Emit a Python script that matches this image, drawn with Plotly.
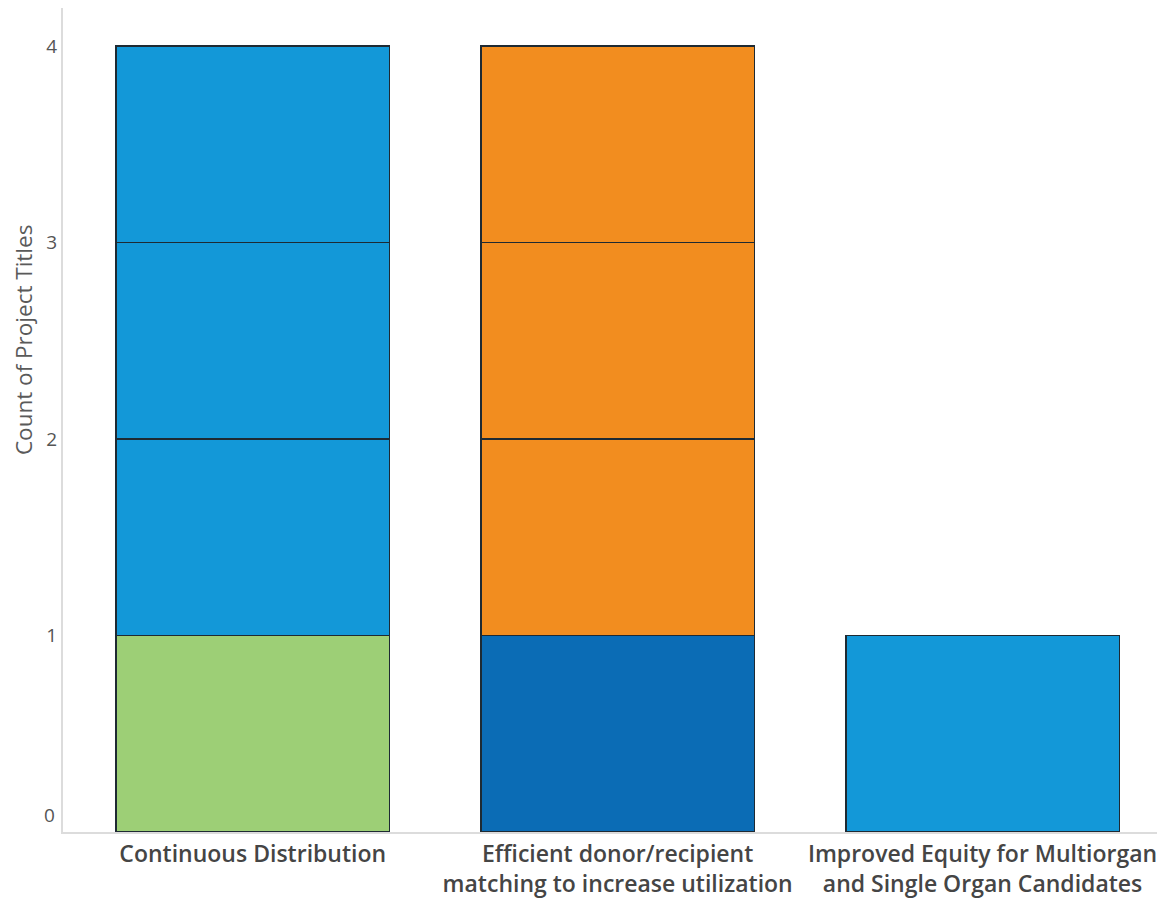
import plotly.graph_objects as go

categories = [
    "Continuous Distribution",
    "Efficient donor/recipient<br>matching to increase utilization",
    "Improved Equity for Multiorgan<br>and Single Organ Candidates",
]

# Stacked segments (bottom to top), one project title per segment
segment_values = [
    [1, 1, 1],
    [1, 1, None],
    [1, 1, None],
    [1, 1, None],
]
segment_colors = [
    ["#9dcf76", "#0b6cb5", "#1398d8"],
    ["#1398d8", "#f28d1f", "#1398d8"],
    ["#1398d8", "#f28d1f", "#1398d8"],
    ["#1398d8", "#f28d1f", "#1398d8"],
]

y_ticks = [1, 2, 3, 4]
y_base_label = "0"

fig = go.Figure()
for vals, cols in zip(segment_values, segment_colors):
    fig.add_trace(go.Bar(
        x=categories, y=vals,
        marker=dict(color=cols, line=dict(color="#1e2a33", width=1.6)),
        showlegend=False,
    ))

fig.update_layout(
    barmode="stack",
    bargap=0.25,
    width=1157, height=893,
    paper_bgcolor="white", plot_bgcolor="white",
    margin=dict(l=55, r=0, t=0, b=69),
    font=dict(family="Open Sans, sans-serif", color="#555555"),
    xaxis=dict(
        showline=True, linecolor="#dcdcdc", linewidth=2,
        showgrid=False, ticks="",
        tickfont=dict(size=23, color="#454545", family="Open Sans, sans-serif", weight=600),
        range=[-0.52, 2.5],
    ),
    yaxis=dict(
        range=[0, 4.193],
        tickvals=y_ticks,
        showline=True, linecolor="#dcdcdc", linewidth=2,
        showgrid=False, zeroline=False, ticks="",
        tickfont=dict(size=19, color="#555555"),
        ticklabelstandoff=0,
    ),
    annotations=[
        dict(
            text="Count of Project Titles", textangle=-90,
            xref="paper", yref="paper", x=-0.0363, y=0.597,
            xanchor="center", yanchor="middle", showarrow=False,
            font=dict(size=22.5, color="#5a5a5a"),
        ),
        dict(
            text=y_base_label, xref="paper", yref="y", x=0, y=0,
            xanchor="right", yanchor="middle", xshift=-6, yshift=17,
            showarrow=False, font=dict(size=19, color="#555555"),
        ),
    ],
)

fig.write_html("out.html")
